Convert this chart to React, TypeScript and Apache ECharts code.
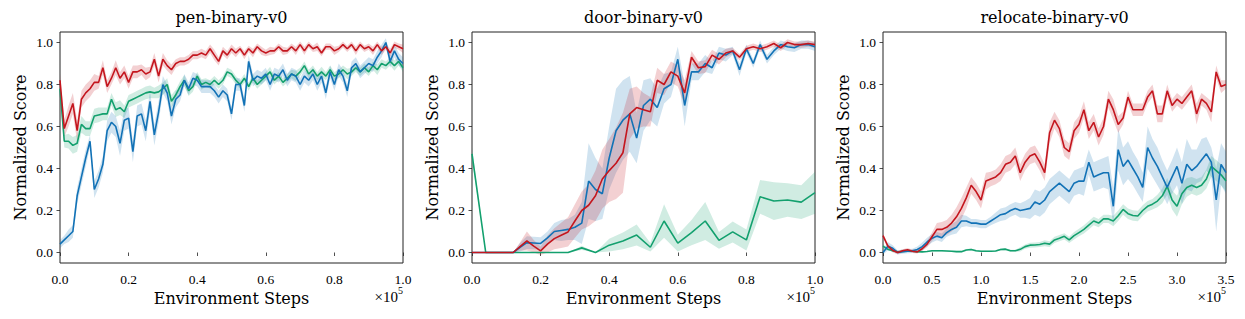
import React, { useEffect, useRef } from "react";
import * as echarts from "echarts";

// ---------- data (x in units of 1e5 environment steps) ----------
const PEN_X = [
  0, 0.0125, 0.025, 0.0375, 0.05, 0.0625, 0.075, 0.0875,
  0.1, 0.1125, 0.125, 0.1375, 0.15, 0.1625, 0.175, 0.1875,
  0.2, 0.2125, 0.225, 0.2375, 0.25, 0.2625, 0.275, 0.2875,
  0.3, 0.3125, 0.325, 0.3375, 0.35, 0.3625, 0.375, 0.3875,
  0.4, 0.4125, 0.425, 0.4375, 0.45, 0.4625, 0.475, 0.4875,
  0.5, 0.5125, 0.525, 0.5375, 0.55, 0.5625, 0.575, 0.5875,
  0.6, 0.6125, 0.625, 0.6375, 0.65, 0.6625, 0.675, 0.6875,
  0.7, 0.7125, 0.725, 0.7375, 0.75, 0.7625, 0.775, 0.7875,
  0.8, 0.8125, 0.825, 0.8375, 0.85, 0.8625, 0.875, 0.8875,
  0.9, 0.9125, 0.925, 0.9375, 0.95, 0.9625, 0.975, 0.9875,
  1.0,
];
const PEN_RED = [
  0.82, 0.59, 0.65, 0.71, 0.58, 0.73, 0.76, 0.78,
  0.81, 0.81, 0.88, 0.79, 0.83, 0.88, 0.83, 0.86,
  0.81, 0.86, 0.86, 0.87, 0.85, 0.86, 0.92, 0.84,
  0.92, 0.89, 0.87, 0.9, 0.91, 0.91, 0.92, 0.94,
  0.94, 0.95, 0.94, 0.97, 0.94, 0.91, 0.96, 0.94,
  0.97, 0.95, 0.97, 0.94, 0.97, 0.95, 0.98, 0.96,
  0.95, 0.96, 0.96, 0.98, 0.96, 0.96, 0.98, 0.96,
  0.99, 0.96, 0.99, 0.97, 0.98, 0.95, 0.98, 0.98,
  0.96, 0.97, 0.99, 0.97, 0.99, 0.96, 0.99, 0.97,
  0.98, 0.96, 0.99, 0.96, 0.98, 0.95, 0.99, 0.98,
  0.97,
];
const PEN_RED_BAND = [
  0.03, 0.04, 0.05, 0.05, 0.05, 0.04, 0.04, 0.04,
  0.04, 0.03, 0.035, 0.03, 0.03, 0.035, 0.03, 0.03,
  0.03, 0.03, 0.03, 0.025, 0.03, 0.025, 0.03, 0.03,
  0.03, 0.025, 0.025, 0.02, 0.02, 0.02, 0.02, 0.02,
  0.02, 0.02, 0.02, 0.02, 0.025, 0.02, 0.02, 0.02,
  0.02, 0.02, 0.015, 0.02, 0.015, 0.02, 0.015, 0.02,
  0.015, 0.02, 0.015, 0.015, 0.02, 0.015, 0.015, 0.02,
  0.015, 0.02, 0.015, 0.015, 0.02, 0.015, 0.015, 0.015,
  0.02, 0.015, 0.015, 0.015, 0.015, 0.02, 0.015, 0.015,
  0.015, 0.02, 0.015, 0.02, 0.015, 0.02, 0.015, 0.015,
  0.02,
];
const PEN_GREEN = [
  0.78, 0.53, 0.53, 0.51, 0.52, 0.61, 0.59, 0.59,
  0.65, 0.655, 0.66, 0.66, 0.73, 0.68, 0.69, 0.67,
  0.72, 0.73, 0.74, 0.75, 0.76, 0.765, 0.76, 0.765,
  0.78, 0.8, 0.72, 0.75, 0.79, 0.82, 0.77, 0.79,
  0.84, 0.8, 0.81, 0.8, 0.82, 0.8, 0.82, 0.86,
  0.85, 0.82, 0.8, 0.83, 0.79, 0.83, 0.8, 0.82,
  0.84, 0.86, 0.82, 0.84, 0.81, 0.83, 0.85, 0.84,
  0.86, 0.89, 0.85, 0.87, 0.84, 0.86, 0.84, 0.87,
  0.84, 0.85, 0.87, 0.85, 0.86, 0.88, 0.86, 0.88,
  0.86, 0.89, 0.87, 0.9, 0.89, 0.91, 0.89, 0.91,
  0.88,
];
const PEN_GREEN_BAND = [
  0.03, 0.03, 0.035, 0.04, 0.04, 0.04, 0.035, 0.035,
  0.035, 0.035, 0.03, 0.03, 0.03, 0.035, 0.035, 0.03,
  0.03, 0.03, 0.03, 0.03, 0.03, 0.03, 0.025, 0.03,
  0.03, 0.03, 0.03, 0.025, 0.025, 0.025, 0.025, 0.025,
  0.02, 0.025, 0.02, 0.02, 0.02, 0.02, 0.02, 0.02,
  0.02, 0.02, 0.02, 0.02, 0.02, 0.02, 0.02, 0.02,
  0.02, 0.025, 0.02, 0.02, 0.02, 0.02, 0.02, 0.025,
  0.02, 0.02, 0.02, 0.02, 0.02, 0.025, 0.02, 0.02,
  0.02, 0.02, 0.02, 0.025, 0.02, 0.02, 0.02, 0.02,
  0.02, 0.02, 0.025, 0.02, 0.02, 0.02, 0.025, 0.02,
  0.02,
];
const PEN_BLUE = [
  0.04, 0.06, 0.08, 0.1, 0.27, 0.36, 0.45, 0.53,
  0.3, 0.35, 0.42, 0.58, 0.62, 0.6, 0.52, 0.63,
  0.64, 0.48, 0.65, 0.66, 0.58, 0.72, 0.56, 0.67,
  0.8, 0.76, 0.65, 0.73, 0.75, 0.82, 0.78, 0.83,
  0.82, 0.79, 0.79, 0.79, 0.77, 0.74, 0.77, 0.75,
  0.66, 0.8, 0.8, 0.7, 0.91, 0.82, 0.84, 0.83,
  0.85, 0.8, 0.85, 0.84, 0.87, 0.82, 0.85, 0.84,
  0.8, 0.84, 0.82, 0.85, 0.8, 0.84, 0.76, 0.86,
  0.8, 0.87, 0.84, 0.77, 0.88, 0.9, 0.86, 0.88,
  0.9, 0.89, 0.93, 0.96, 1.0, 0.91, 0.96, 0.92,
  0.9,
];
const PEN_BLUE_BAND = [
  0.02, 0.02, 0.03, 0.03, 0.04, 0.04, 0.04, 0.03,
  0.04, 0.04, 0.04, 0.05, 0.05, 0.05, 0.06, 0.05,
  0.05, 0.05, 0.05, 0.05, 0.05, 0.05, 0.05, 0.05,
  0.04, 0.04, 0.04, 0.04, 0.03, 0.03, 0.03, 0.03,
  0.03, 0.03, 0.03, 0.03, 0.03, 0.03, 0.03, 0.03,
  0.03, 0.03, 0.03, 0.03, 0.03, 0.03, 0.03, 0.03,
  0.03, 0.03, 0.03, 0.03, 0.03, 0.03, 0.03, 0.03,
  0.03, 0.03, 0.03, 0.03, 0.03, 0.03, 0.03, 0.03,
  0.03, 0.03, 0.03, 0.03, 0.03, 0.03, 0.03, 0.03,
  0.03, 0.03, 0.03, 0.03, 0.02, 0.03, 0.03, 0.03,
  0.03,
];

const DOOR_X = [
  0, 0.02, 0.04, 0.06, 0.08, 0.1, 0.12, 0.14, 0.16, 0.18,
  0.2, 0.22, 0.24, 0.26, 0.28, 0.3, 0.32, 0.34, 0.36, 0.38,
  0.4, 0.42, 0.44, 0.46, 0.48, 0.5, 0.52, 0.54, 0.56, 0.58,
  0.6, 0.62, 0.64, 0.66, 0.68, 0.7, 0.72, 0.74, 0.76, 0.78,
  0.8, 0.82, 0.84, 0.86, 0.88, 0.9, 0.92, 0.94, 0.96, 0.98,
  1.0,
];
const DOOR_RED = [
  0, 0, 0, 0, 0, 0, 0, 0.028, 0.055, 0.03,
  0.008, 0.04, 0.066, 0.082, 0.098, 0.15, 0.2, 0.225, 0.27, 0.35,
  0.39, 0.425, 0.475, 0.66, 0.69, 0.68, 0.67, 0.82, 0.8, 0.86,
  0.84, 0.76, 0.93, 0.88, 0.885, 0.94, 0.92, 0.95, 0.96, 0.93,
  0.97, 0.98, 0.97, 0.98, 0.995, 0.975, 1.0, 0.99, 0.99, 0.995,
  0.99,
];
const DOOR_RED_BAND = [
  0, 0, 0, 0, 0, 0, 0, 0.02, 0.045, 0.03,
  0.02, 0.04, 0.05, 0.06, 0.07, 0.08, 0.09, 0.1, 0.12, 0.14,
  0.15, 0.17, 0.19, 0.12, 0.1, 0.08, 0.07, 0.06, 0.05, 0.05,
  0.05, 0.06, 0.03, 0.03, 0.03, 0.025, 0.025, 0.02, 0.015, 0.015,
  0.015, 0.015, 0.015, 0.015, 0.015, 0.015, 0.015, 0.015, 0.015, 0.015,
  0.015,
];
const DOOR_BLUE = [
  0, 0, 0, 0, 0, 0, 0, 0.025, 0.047, 0.045,
  0.043, 0.07, 0.1, 0.105, 0.11, 0.12, 0.14, 0.34, 0.3, 0.28,
  0.45, 0.58, 0.63, 0.66, 0.545, 0.7, 0.73, 0.69, 0.78, 0.8,
  0.92, 0.7, 0.86, 0.86, 0.9, 0.88, 0.95, 0.94, 0.96, 0.87,
  0.97, 0.9, 0.99, 0.92, 0.96, 0.99, 0.98, 0.975, 0.99, 0.99,
  0.98,
];
const DOOR_BLUE_BAND = [
  0, 0, 0, 0, 0, 0, 0, 0.02, 0.03, 0.03,
  0.03, 0.03, 0.04, 0.05, 0.05, 0.06, 0.1, 0.18, 0.15, 0.12,
  0.15, 0.2, 0.19, 0.18, 0.12, 0.12, 0.1, 0.09, 0.07, 0.06,
  0.06, 0.1, 0.04, 0.04, 0.04, 0.03, 0.03, 0.03, 0.02, 0.03,
  0.02, 0.02, 0.02, 0.02, 0.02, 0.02, 0.02, 0.02, 0.02, 0.02,
  0.02,
];
const DOOR_GREEN_X = [
  0, 0.04, 0.08, 0.12, 0.16, 0.2, 0.24, 0.28, 0.32, 0.36,
  0.4, 0.44, 0.48, 0.52, 0.56, 0.6, 0.64, 0.68, 0.72, 0.76,
  0.8, 0.84, 0.88, 0.92, 0.96, 1.0,
];
const DOOR_GREEN = [
  0.47, 0, 0, 0, 0, 0, 0, 0, 0.022, 0,
  0.035, 0.055, 0.083, 0.025, 0.15, 0.045, 0.095, 0.15, 0.058, 0.098,
  0.06, 0.265, 0.245, 0.25, 0.24, 0.285,
];
const DOOR_GREEN_BAND = [
  0.03, 0, 0, 0, 0, 0, 0, 0, 0.01, 0,
  0.03, 0.04, 0.05, 0.02, 0.08, 0.04, 0.06, 0.09, 0.04, 0.05,
  0.05, 0.08, 0.09, 0.08, 0.08, 0.1,
];

const RELOC_X = [
  0, 0.05, 0.1, 0.15, 0.2, 0.25, 0.3, 0.35, 0.4, 0.45,
  0.5, 0.55, 0.6, 0.65, 0.7, 0.75, 0.8, 0.85, 0.9, 0.95,
  1.0, 1.05, 1.1, 1.15, 1.2, 1.25, 1.3, 1.35, 1.4, 1.45,
  1.5, 1.55, 1.6, 1.65, 1.7, 1.75, 1.8, 1.85, 1.9, 1.95,
  2.0, 2.05, 2.1, 2.15, 2.2, 2.25, 2.3, 2.35, 2.4, 2.45,
  2.5, 2.55, 2.6, 2.65, 2.7, 2.75, 2.8, 2.85, 2.9, 2.95,
  3.0, 3.05, 3.1, 3.15, 3.2, 3.25, 3.3, 3.35, 3.4, 3.45,
  3.5,
];
const RELOC_RED = [
  0.08, 0.03, 0.01, 0.0, 0.008, 0.013, 0.006, 0.003, 0.018, 0.04,
  0.075, 0.11, 0.11, 0.12, 0.14, 0.17, 0.21, 0.26, 0.32, 0.29,
  0.25, 0.34, 0.35, 0.36, 0.38, 0.42, 0.43, 0.46, 0.38, 0.43,
  0.46, 0.47, 0.43, 0.38, 0.57, 0.63, 0.59, 0.5, 0.48, 0.58,
  0.61, 0.68, 0.58, 0.62, 0.55, 0.6, 0.73, 0.68, 0.61, 0.64,
  0.74, 0.68, 0.68, 0.68, 0.74, 0.77, 0.66, 0.66, 0.77, 0.7,
  0.73, 0.71, 0.74, 0.77, 0.66, 0.73, 0.71, 0.67, 0.86, 0.79,
  0.8,
];
const RELOC_RED_BAND = [
  0.01, 0.01, 0.01, 0.008, 0.008, 0.008, 0.008, 0.008, 0.01, 0.015,
  0.02, 0.03, 0.035, 0.035, 0.04, 0.045, 0.05, 0.05, 0.04, 0.04,
  0.04, 0.04, 0.035, 0.035, 0.04, 0.04, 0.04, 0.04, 0.04, 0.04,
  0.04, 0.04, 0.04, 0.04, 0.05, 0.04, 0.04, 0.04, 0.04, 0.04,
  0.04, 0.04, 0.04, 0.04, 0.04, 0.04, 0.04, 0.05, 0.04, 0.03,
  0.03, 0.03, 0.03, 0.03, 0.03, 0.03, 0.04, 0.04, 0.03, 0.03,
  0.03, 0.03, 0.03, 0.03, 0.05, 0.03, 0.03, 0.05, 0.03, 0.03,
  0.02,
];
const RELOC_BLUE = [
  0.0, 0.03, 0.02, 0.0, 0.004, 0.006, 0.008, 0.014, 0.028, 0.05,
  0.068, 0.078, 0.07, 0.095, 0.11, 0.12, 0.15, 0.15, 0.14, 0.14,
  0.135, 0.135, 0.15, 0.165, 0.18, 0.185, 0.2, 0.21, 0.2, 0.205,
  0.21, 0.24, 0.23, 0.25, 0.29, 0.31, 0.33, 0.31, 0.29, 0.33,
  0.34, 0.34, 0.43, 0.36, 0.37, 0.38, 0.38, 0.22, 0.49, 0.41,
  0.44, 0.4, 0.36, 0.31, 0.5, 0.45, 0.41, 0.36, 0.31, 0.36,
  0.41, 0.33, 0.42, 0.39, 0.41, 0.44, 0.47, 0.43, 0.25, 0.42,
  0.38,
];
const RELOC_BLUE_BAND = [
  0.01, 0.02, 0.015, 0.01, 0.01, 0.01, 0.01, 0.015, 0.02, 0.02,
  0.02, 0.02, 0.02, 0.02, 0.025, 0.03, 0.03, 0.025, 0.02, 0.02,
  0.02, 0.02, 0.02, 0.025, 0.03, 0.03, 0.03, 0.03, 0.035, 0.04,
  0.05, 0.06, 0.06, 0.06, 0.06, 0.06, 0.06, 0.06, 0.06, 0.06,
  0.06, 0.07, 0.06, 0.07, 0.07, 0.07, 0.08, 0.09, 0.1, 0.09,
  0.09, 0.08, 0.08, 0.07, 0.1, 0.09, 0.09, 0.08, 0.08, 0.08,
  0.09, 0.1, 0.12, 0.1, 0.08, 0.1, 0.08, 0.07, 0.15, 0.1,
  0.1,
];
const RELOC_GREEN = [
  0.03, 0.015, 0.008, 0.003, 0.005, 0.006, 0.006, 0.004, 0.003, 0.005,
  0.008, 0.008, 0.008, 0.007, 0.006, 0.004, 0.004, 0.012, 0.014, 0.008,
  0.006, 0.006, 0.006, 0.007, 0.014, 0.016, 0.008, 0.008, 0.015, 0.028,
  0.035, 0.036, 0.038, 0.044, 0.04, 0.06, 0.068, 0.077, 0.06, 0.08,
  0.095, 0.11, 0.13, 0.15, 0.14, 0.16, 0.16, 0.15, 0.175, 0.205,
  0.185, 0.176, 0.174, 0.2, 0.22, 0.23, 0.245, 0.27, 0.315, 0.25,
  0.22, 0.28, 0.31, 0.32, 0.31, 0.32, 0.35, 0.41, 0.39, 0.37,
  0.34,
];
const RELOC_GREEN_BAND = [
  0.01, 0.005, 0.003, 0.003, 0.003, 0.003, 0.003, 0.003, 0.003, 0.003,
  0.004, 0.004, 0.004, 0.004, 0.004, 0.004, 0.004, 0.005, 0.005, 0.004,
  0.004, 0.004, 0.004, 0.004, 0.005, 0.005, 0.005, 0.005, 0.01, 0.01,
  0.012, 0.012, 0.012, 0.014, 0.014, 0.015, 0.015, 0.015, 0.015, 0.018,
  0.018, 0.02, 0.02, 0.02, 0.02, 0.02, 0.02, 0.025, 0.025, 0.025,
  0.025, 0.025, 0.025, 0.025, 0.025, 0.025, 0.03, 0.035, 0.04, 0.045,
  0.05, 0.05, 0.045, 0.04, 0.04, 0.04, 0.045, 0.05, 0.05, 0.05,
  0.05,
];

const TITLES = ["pen-binary-v0", "door-binary-v0", "relocate-binary-v0"];
const X_MAX = [1.0, 1.0, 3.5];
const X_INTERVAL = [0.2, 0.2, 0.5];
const Y_TICKS = [0, 0.2, 0.4, 0.6, 0.8, 1.0];

// ---------- styling ----------
const RED = "#c4161e";
const BLUE = "#1272b6";
const GREEN = "#13a06e";
const FONT_BIG = '"DejaVu Serif", serif';
const FONT_TICK = '"Liberation Serif", serif';
const GRIDS = [
  { left: 60, top: 32, width: 343, height: 231 },
  { left: 472, top: 32, width: 343, height: 231 },
  { left: 883, top: 32, width: 343, height: 231 },
];

type SeriesDef = { xs: number[]; mean: number[]; band: number[]; color: string };

function buildSeries(panel: number, defs: SeriesDef[]) {
  const out: any[] = [];
  // shaded bands: one polygon per series, drawn through the axes' scales
  defs.forEach((d) => {
    const lows = d.xs.map((x, i) => [x, d.mean[i] - d.band[i]]);
    const highs = d.xs.map((x, i) => [x, d.mean[i] + d.band[i]]);
    out.push({
      type: "custom",
      xAxisIndex: panel,
      yAxisIndex: panel,
      silent: true,
      z: 1,
      data: d.xs.map((x, i) => [x, lows[i][1], highs[i][1]]),
      encode: { x: 0, y: [1, 2] },
      renderItem: (params: any, api: any) => {
        if (params.dataIndex !== 0) return null;
        const top = highs.map((p) => api.coord(p));
        const bottom = lows.map((p) => api.coord(p)).reverse();
        return {
          type: "polygon",
          shape: { points: top.concat(bottom) },
          style: { fill: d.color, opacity: 0.2, stroke: "none" },
        };
      },
    });
  });
  defs.forEach((d) => {
    out.push({
      type: "line",
      xAxisIndex: panel,
      yAxisIndex: panel,
      symbol: "none",
      silent: true,
      lineStyle: { color: d.color, width: 1.6 },
      data: d.xs.map((x, i) => [x, d.mean[i]]),
      z: 3,
    });
  });
  return out;
}

export default function App() {
  const ref = useRef<HTMLDivElement>(null);
  useEffect(() => {
    document.body.style.margin = "0";
    const chart = echarts.init(ref.current!, undefined, { renderer: "svg" });

    const panels: SeriesDef[][] = [
      [
        { xs: PEN_X, mean: PEN_GREEN, band: PEN_GREEN_BAND, color: GREEN },
        { xs: PEN_X, mean: PEN_BLUE, band: PEN_BLUE_BAND, color: BLUE },
        { xs: PEN_X, mean: PEN_RED, band: PEN_RED_BAND, color: RED },
      ],
      [
        { xs: DOOR_GREEN_X, mean: DOOR_GREEN, band: DOOR_GREEN_BAND, color: GREEN },
        { xs: DOOR_X, mean: DOOR_BLUE, band: DOOR_BLUE_BAND, color: BLUE },
        { xs: DOOR_X, mean: DOOR_RED, band: DOOR_RED_BAND, color: RED },
      ],
      [
        { xs: RELOC_X, mean: RELOC_GREEN, band: RELOC_GREEN_BAND, color: GREEN },
        { xs: RELOC_X, mean: RELOC_BLUE, band: RELOC_BLUE_BAND, color: BLUE },
        { xs: RELOC_X, mean: RELOC_RED, band: RELOC_RED_BAND, color: RED },
      ],
    ];

    const tickStyle = { color: "#222", width: 0.8 };
    const graphics: any[] = [];
    GRIDS.forEach((g, i) => {
      const right = g.left + g.width;
      graphics.push({
        type: "text",
        x: g.left + g.width / 2,
        y: 17,
        style: {
          text: TITLES[i],
          textAlign: "center",
          textVerticalAlign: "middle",
          fontFamily: FONT_BIG,
          fontSize: 16,
          fill: "#000",
        },
      });
      graphics.push({
        type: "text",
        x: right - 5,
        y: 297,
        style: {
          text: "×10",
          textAlign: "right",
          textVerticalAlign: "middle",
          fontFamily: FONT_TICK,
          fontSize: 15,
          fill: "#000",
        },
      });
      graphics.push({
        type: "text",
        x: right - 5,
        y: 290,
        style: {
          text: "5",
          textAlign: "left",
          textVerticalAlign: "middle",
          fontFamily: FONT_TICK,
          fontSize: 10,
          fill: "#000",
        },
      });
    });

    chart.setOption({
      animation: false,
      grid: GRIDS.map((g) => ({
        ...g,
        show: true,
        borderColor: "#222",
        borderWidth: 1,
        backgroundColor: "transparent",
        containLabel: false,
      })),
      xAxis: GRIDS.map((_, i) => ({
        type: "value",
        gridIndex: i,
        min: 0,
        max: X_MAX[i],
        interval: X_INTERVAL[i],
        axisLine: { show: false },
        axisTick: { show: true, length: 3.5, lineStyle: tickStyle },
        axisLabel: {
          formatter: (v: number) => v.toFixed(1),
          margin: 9,
          fontFamily: FONT_TICK,
          fontSize: 13.5,
          color: "#000",
        },
        splitLine: { show: false },
        name: "Environment Steps",
        nameLocation: "middle",
        nameGap: 26,
        nameTextStyle: { fontFamily: FONT_BIG, fontSize: 16, color: "#000" },
      })),
      yAxis: GRIDS.map((_, i) => ({
        type: "value",
        gridIndex: i,
        min: -0.05,
        max: 1.05,
        axisLine: { show: false },
        axisTick: { show: true, length: 3.5, lineStyle: tickStyle, customValues: Y_TICKS },
        axisLabel: {
          customValues: Y_TICKS,
          formatter: (v: number) => v.toFixed(1),
          margin: 7,
          fontFamily: FONT_TICK,
          fontSize: 13.5,
          color: "#000",
        },
        splitLine: { show: false },
        name: "Normalized Score",
        nameLocation: "middle",
        nameGap: 32,
        nameRotate: 90,
        nameTextStyle: { fontFamily: FONT_BIG, fontSize: 16, color: "#000" },
      })),
      series: panels.flatMap((defs, i) => buildSeries(i, defs)),
      graphic: graphics,
    });

    return () => chart.dispose();
  }, []);

  return (
    <div
      ref={ref}
      style={{ position: "absolute", left: 0, top: 0, width: 1245, height: 319 }}
    />
  );
}
